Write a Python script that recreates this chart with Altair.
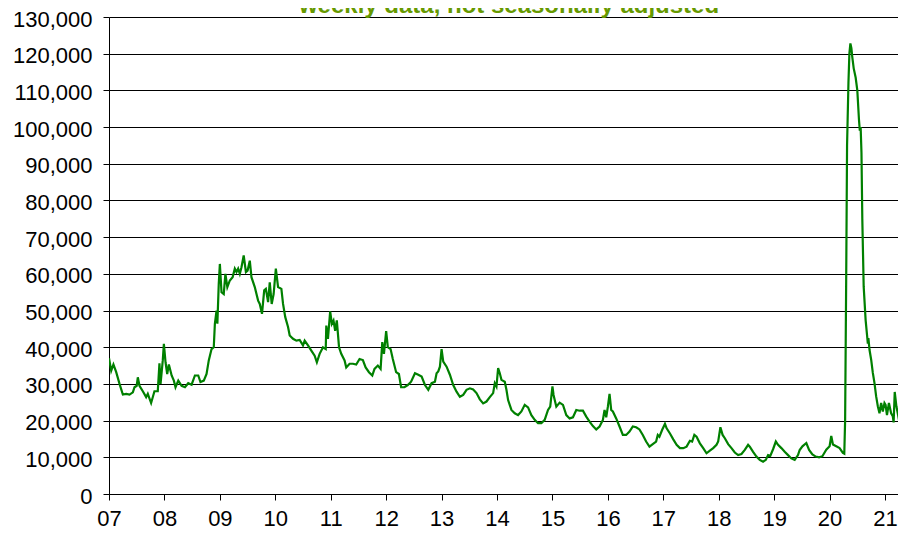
import altair as alt
import pandas as pd

TITLE = "weekly data, not seasonally adjusted"

# decimal year of each plotted week and the claims
week = [
    # 2007
    2007.00, 2007.04, 2007.08, 2007.13, 2007.19, 2007.25, 2007.31, 2007.37, 2007.43, 2007.46,
    2007.50, 2007.52, 2007.55, 2007.61, 2007.67, 2007.70, 2007.76, 2007.82, 2007.88, 2007.91,
    2007.93, 2007.97, 2007.99,
    # 2008
    2008.02, 2008.05, 2008.08, 2008.13, 2008.17, 2008.20, 2008.25, 2008.31, 2008.37, 2008.43,
    2008.49, 2008.55, 2008.61, 2008.65, 2008.71, 2008.76, 2008.80, 2008.85, 2008.89, 2008.91,
    2008.94, 2008.955, 2008.98,
    # 2009
    2009.00, 2009.03, 2009.07, 2009.10, 2009.135, 2009.18, 2009.23, 2009.27, 2009.30, 2009.33,
    2009.36, 2009.39, 2009.43, 2009.47, 2009.50, 2009.54, 2009.57, 2009.63, 2009.69, 2009.72,
    2009.76, 2009.80, 2009.83, 2009.87, 2009.90, 2009.935, 2009.97,
    # 2010
    2010.01, 2010.05, 2010.11, 2010.14, 2010.18, 2010.23, 2010.26, 2010.32, 2010.38, 2010.44,
    2010.50, 2010.53, 2010.59, 2010.65, 2010.71, 2010.75, 2010.80, 2010.86, 2010.91, 2010.92,
    2010.95, 2010.99,
    # 2011
    2011.02, 2011.05, 2011.08, 2011.11, 2011.15, 2011.19, 2011.25, 2011.28, 2011.34, 2011.40,
    2011.46, 2011.52, 2011.58, 2011.63, 2011.69, 2011.75, 2011.79, 2011.85, 2011.90, 2011.93,
    2011.96,
    # 2012
    2012.00, 2012.03, 2012.08, 2012.12, 2012.18, 2012.23, 2012.27, 2012.33, 2012.39, 2012.45,
    2012.52, 2012.58, 2012.64, 2012.70, 2012.76, 2012.82, 2012.88, 2012.91, 2012.94, 2012.97,
    # 2013
    2013.00, 2013.03, 2013.09, 2013.15, 2013.21, 2013.27, 2013.33, 2013.39, 2013.45, 2013.51,
    2013.57, 2013.63, 2013.69, 2013.75, 2013.81, 2013.87, 2013.93, 2013.96, 2013.99,
    # 2014
    2014.02, 2014.05, 2014.08, 2014.14, 2014.17, 2014.20, 2014.26, 2014.32, 2014.38, 2014.44,
    2014.50, 2014.56, 2014.62, 2014.68, 2014.74, 2014.80, 2014.86, 2014.92, 2014.96,
    # 2015
    2015.00, 2015.02, 2015.07, 2015.13, 2015.19, 2015.25, 2015.31, 2015.37, 2015.43, 2015.49,
    2015.55, 2015.61, 2015.67, 2015.73, 2015.79, 2015.85, 2015.91, 2015.94, 2015.97,
    # 2016
    2016.00, 2016.03, 2016.06, 2016.09, 2016.15, 2016.21, 2016.27, 2016.33, 2016.39, 2016.45,
    2016.51, 2016.57, 2016.63, 2016.69, 2016.75, 2016.81, 2016.87, 2016.90, 2016.93, 2016.98,
    # 2017
    2017.03, 2017.06, 2017.12, 2017.18, 2017.24, 2017.30, 2017.36, 2017.42, 2017.48, 2017.52,
    2017.56, 2017.60, 2017.66, 2017.72, 2017.78, 2017.84, 2017.90, 2017.96, 2017.99,
    # 2018
    2018.03, 2018.07, 2018.11, 2018.17, 2018.23, 2018.29, 2018.35, 2018.41, 2018.47, 2018.53,
    2018.56, 2018.62, 2018.68, 2018.74, 2018.80, 2018.85, 2018.89, 2018.93, 2018.98,
    # 2019
    2019.03, 2019.07, 2019.13, 2019.19, 2019.25, 2019.31, 2019.37, 2019.43, 2019.46, 2019.51,
    2019.58, 2019.63, 2019.69, 2019.75, 2019.81, 2019.87, 2019.94,
    # 2020
    2020.00, 2020.03, 2020.06, 2020.12, 2020.18, 2020.24, 2020.265, 2020.28, 2020.30, 2020.315,
    2020.34, 2020.357, 2020.375, 2020.393, 2020.41, 2020.435, 2020.47, 2020.50, 2020.53, 2020.545,
    2020.56, 2020.575, 2020.59, 2020.615, 2020.65, 2020.69, 2020.70, 2020.72, 2020.75, 2020.78,
    2020.81, 2020.84, 2020.87, 2020.90, 2020.93, 2020.96, 2020.99,
    # 2021
    2021.01, 2021.035, 2021.07, 2021.11, 2021.14, 2021.155, 2021.175, 2021.205, 2021.235, 2021.265,
    2021.295, 2021.33,
]

claims = [
    # 2007
    37000, 33600, 35300, 33200, 30000, 27100, 27300, 27100, 27700, 29100,
    29500, 31800, 29500, 28000, 26400, 27300, 24800, 28000, 28000, 35600,
    30000, 36400, 40900,
    # 2008
    35900, 32700, 35300, 32300, 30900, 29100, 30900, 29500, 29100, 30200,
    29800, 32300, 32300, 30500, 30900, 32700, 36400, 39500, 40000, 46400,
    50000, 46400, 57300,
    # 2009
    62700, 55000, 54500, 60000, 56400, 58200, 59100, 61400, 60500, 61400,
    60000, 61800, 65000, 60500, 60900, 63600, 59100, 56400, 52700, 51800,
    49100, 55500, 55900, 52300, 57700, 51800, 54500,
    # 2010
    61400, 56400, 55900, 51800, 48200, 45500, 43200, 42300, 41800, 42000,
    40500, 41800, 40500, 39100, 37700, 35900, 38200, 40000, 39500, 45900,
    42300, 49800,
    # 2011
    46400, 47300, 44500, 47300, 40000, 38200, 36400, 34500, 35500, 35500,
    35300, 36800, 36500, 34500, 33200, 32300, 34100, 35000, 34100, 41400,
    38200,
    # 2012
    44400, 40000, 39500, 36800, 33200, 32700, 29100, 29100, 29700, 30600,
    32900, 32500, 32000, 29700, 28400, 30200, 30600, 32900, 33400, 34700,
    # 2013
    39500, 36100, 34700, 32500, 29700, 27900, 26500, 27000, 28400, 28800,
    28500, 27500, 25800, 24700, 25200, 26400, 27500, 30200, 29300,
    # 2014
    34300, 32900, 31100, 30600, 28400, 25600, 22900, 22000, 21500, 22500,
    24300, 23600, 21500, 20200, 19300, 19300, 20200, 22900, 23800,
    # 2015
    29300, 27000, 23800, 24900, 24300, 21500, 20600, 20900, 22900, 22700,
    22700, 21100, 19700, 18500, 17600, 18400, 20200, 22900, 20900,
    # 2016
    23800, 27300, 22900, 22500, 20600, 18400, 16100, 16100, 17000, 18400,
    18200, 17600, 16100, 14300, 12900, 13600, 14300, 16100, 15600, 17500,
    # 2017
    19100, 17900, 16500, 14900, 13400, 12500, 12500, 12900, 14500, 14300,
    16100, 15600, 13800, 12500, 11100, 11800, 12500, 13400, 14300,
    # 2018
    18200, 16100, 15200, 13600, 12500, 11300, 10600, 10900, 12000, 13400,
    12900, 11500, 10200, 9300, 8800, 9300, 10600, 10400, 12200,
    # 2019
    14300, 13400, 12500, 11500, 10600, 9700, 9300, 10600, 12000, 13000,
    13900, 12000, 10800, 10200, 10000, 10300, 12100,
    # 2020
    13000, 15800, 13500, 13000, 12500, 11200, 11000, 20000, 60000, 95000,
    112000, 120000, 122800, 121500, 119000, 116000, 113500, 110000, 102000, 99000,
    100000, 93000, 75000, 56500, 47400, 41000, 42500, 39300, 36600, 33000,
    30200, 26600, 23900, 22000, 24800, 22500, 24800,
    # 2021
    24300, 21500, 24800, 22000, 21200, 19500, 27800, 23900, 21600, 19000,
    19300, 20300,
]

year_ticks = list(range(2007, 2022))
value_ticks = list(range(0, 130001, 10000))

df = pd.DataFrame({"year": week, "claims": claims})

FONT = "Liberation Sans"

x_enc = alt.X(
    "year:Q",
    scale=alt.Scale(domain=[2007, 2021.234], nice=False, zero=False),
    axis=alt.Axis(
        values=year_ticks,
        labelExpr="substring(toString(datum.value), 2, 4)",
        title=None,
        grid=False,
        tickSize=6,
        labelPadding=8,
        labelFlush=False,
        labelOverlap=False,
    ),
)
y_enc = alt.Y(
    "claims:Q",
    scale=alt.Scale(domain=[0, 130000], nice=False),
    axis=alt.Axis(
        values=value_ticks,
        format=",d",
        title=None,
        grid=True,
        tickSize=6,
        labelPadding=11,
        labelOffset=2,
        labelFlush=False,
        labelOverlap=False,
    ),
)

line = alt.Chart(df).mark_line(color="#008000", strokeWidth=2.2, clip=True).encode(x=x_enc, y=y_enc)

title = alt.Chart(pd.DataFrame({"t": [TITLE]})).mark_text(
    font=FONT, fontSize=24, fontWeight="bold", color="#669900",
    align="center", baseline="alphabetic",
).encode(text="t:N", x=alt.value(400), y=alt.value(-4))

chart = (
    alt.layer(line, title)
    .properties(
        width=789,
        height=477,
        autosize=alt.AutoSizeParams(type="none"),
        padding={"left": 101, "top": 9, "right": 0, "bottom": 36},
        background="white",
    )
    .configure_view(stroke=None)
    .configure_axis(
        labelFont=FONT,
        labelFontSize=22,
        labelColor="black",
        domainColor="black",
        domainWidth=1,
        tickColor="black",
        tickWidth=1,
        gridColor="black",
        gridOpacity=1,
        gridWidth=1,
    )
)

chart.save("out.html", embed_options={"renderer": "svg", "actions": False})
